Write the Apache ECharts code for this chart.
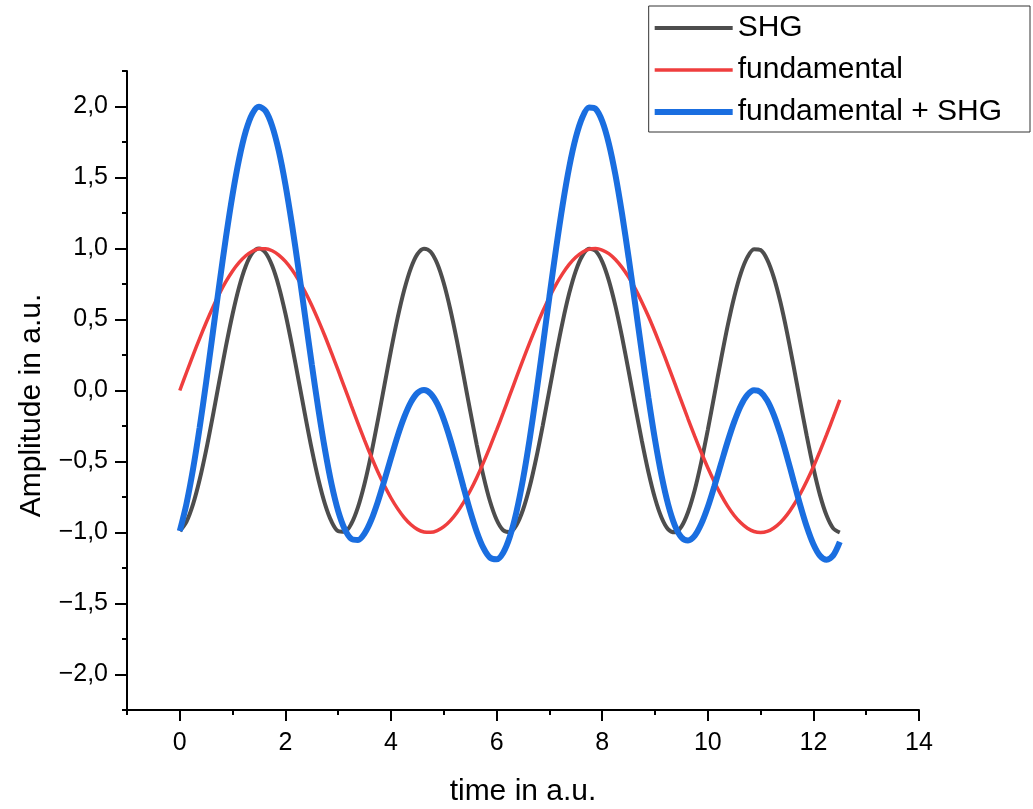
<!DOCTYPE html>
<html>
<head>
<meta charset="utf-8">
<title>SHG</title>
<script src="https://cdn.jsdelivr.net/npm/echarts@6/dist/echarts.min.js"></script>
<style>
	html, body { margin: 0; padding: 0; background: #fff; }
	#chart { width: 1033px; height: 809px; }
</style>
</head>
<body>
<div id="chart"></div>
<script>
// time values (a.u.)
var time = [0, 0.125, 0.25, 0.375, 0.5, 0.625, 0.75, 0.875, 1, 1.125,
	1.25, 1.375, 1.5, 1.625, 1.75, 1.875, 2, 2.125, 2.25, 2.375,
	2.5, 2.625, 2.75, 2.875, 3, 3.125, 3.25, 3.375, 3.5, 3.625,
	3.75, 3.875, 4, 4.125, 4.25, 4.375, 4.5, 4.625, 4.75, 4.875,
	5, 5.125, 5.25, 5.375, 5.5, 5.625, 5.75, 5.875, 6, 6.125,
	6.25, 6.375, 6.5, 6.625, 6.75, 6.875, 7, 7.125, 7.25, 7.375,
	7.5, 7.625, 7.75, 7.875, 8, 8.125, 8.25, 8.375, 8.5, 8.625,
	8.75, 8.875, 9, 9.125, 9.25, 9.375, 9.5, 9.625, 9.75, 9.875,
	10, 10.125, 10.25, 10.375, 10.5, 10.625, 10.75, 10.875, 11, 11.125,
	11.25, 11.375, 11.5, 11.625, 11.75, 11.875, 12, 12.125, 12.25, 12.375,
	12.5];

// SHG
var shg = [-0.990, -0.925, -0.802, -0.629, -0.418, -0.180, 0.069, 0.314, 0.539, 0.731,
	0.877, 0.969, 1.000, 0.969, 0.878, 0.733, 0.542, 0.317, 0.072, -0.177,
	-0.415, -0.627, -0.800, -0.924, -0.990, -0.994, -0.937, -0.821, -0.655, -0.448,
	-0.212, 0.036, 0.282, 0.511, 0.707, 0.860, 0.960, 0.999, 0.977, 0.894,
	0.755, 0.569, 0.348, 0.105, -0.144, -0.384, -0.601, -0.780, -0.910, -0.984,
	-0.997, -0.948, -0.840, -0.680, -0.477, -0.245, 0.003, 0.250, 0.482, 0.684,
	0.843, 0.950, 0.998, 0.983, 0.908, 0.776, 0.596, 0.379, 0.138, -0.111,
	-0.353, -0.574, -0.759, -0.896, -0.978, -0.999, -0.958, -0.857, -0.704, -0.506,
	-0.277, -0.030, 0.218, 0.453, 0.659, 0.825, 0.939, 0.995, 0.989, 0.922,
	0.797, 0.623, 0.410, 0.171, -0.078, -0.322, -0.546, -0.737, -0.881, -0.971,
	-1.000];

// fundamental
var fundamental = [0.000, 0.125, 0.247, 0.366, 0.479, 0.585, 0.682, 0.768, 0.842, 0.902,
	0.949, 0.981, 0.998, 0.999, 0.984, 0.954, 0.909, 0.850, 0.778, 0.694,
	0.599, 0.494, 0.382, 0.263, 0.141, 0.017, -0.108, -0.231, -0.351, -0.465,
	-0.572, -0.669, -0.757, -0.832, -0.895, -0.944, -0.978, -0.996, -0.999, -0.987,
	-0.959, -0.916, -0.859, -0.788, -0.706, -0.612, -0.508, -0.397, -0.279, -0.158,
	-0.033, 0.092, 0.215, 0.335, 0.450, 0.558, 0.657, 0.746, 0.823, 0.888,
	0.938, 0.974, 0.995, 1.000, 0.989, 0.964, 0.923, 0.867, 0.799, 0.717,
	0.624, 0.523, 0.412, 0.295, 0.174, 0.050, -0.075, -0.199, -0.320, -0.435,
	-0.544, -0.644, -0.735, -0.814, -0.880, -0.932, -0.970, -0.993, -1.000, -0.992,
	-0.968, -0.929, -0.876, -0.808, -0.729, -0.638, -0.537, -0.427, -0.311, -0.190,
	-0.066];

// fundamental + SHG
var sum = [-0.990, -0.800, -0.555, -0.263, 0.061, 0.405, 0.751, 1.082, 1.381, 1.633,
	1.826, 1.950, 1.998, 1.968, 1.862, 1.687, 1.451, 1.167, 0.850, 0.517,
	0.184, -0.133, -0.418, -0.661, -0.849, -0.977, -1.045, -1.052, -1.006, -0.913,
	-0.784, -0.633, -0.475, -0.321, -0.188, -0.084, -0.018, 0.003, -0.022, -0.093,
	-0.204, -0.347, -0.511, -0.683, -0.850, -0.996, -1.109, -1.177, -1.189, -1.142,
	-1.030, -0.856, -0.625, -0.345, -0.027, 0.313, 0.660, 0.996, 1.305, 1.572,
	1.781, 1.924, 1.993, 1.983, 1.897, 1.740, 1.519, 1.246, 0.937, 0.606,
	0.271, -0.051, -0.347, -0.601, -0.804, -0.949, -1.033, -1.056, -1.024, -0.941,
	-0.821, -0.674, -0.517, -0.361, -0.221, -0.107, -0.031, 0.002, -0.011, -0.070,
	-0.171, -0.306, -0.466, -0.637, -0.807, -0.960, -1.083, -1.164, -1.192, -1.161,
	-1.066];

function pairs(ys) {
	var out = [];
	for (var i = 0; i < time.length; i++) {
		out.push([time[i], ys[i]]);
	}
	return out;
}

var font = 'Liberation Sans, Arial, sans-serif';
var axisColor = '#000';
var colors = ['#4d4d4d', '#ef3e3e', '#1a6ee0'];
var widths = [4, 3.5, 6];

// plot area: x -1..14, y -2.25..2.25
var L = 127, R = 114, T = 71, B = 99;
var pxX = (1033 - L - R) / 15;
var pxY = (809 - T - B) / 4.5;

var chart = echarts.init(document.getElementById('chart'));

chart.setOption({
	animation: false,
	backgroundColor: '#fff',
	textStyle: { fontFamily: font },
	grid: [
		// main
		{ left: L, right: R, top: T, bottom: B, containLabel: false, outerBoundsMode: 'none' },
		// major x ticks, 0..14
		{ left: L + pxX, right: R, top: T, bottom: B, containLabel: false, outerBoundsMode: 'none' },
		// major y ticks, -2..2
		{ left: L, right: R, top: T + pxY * 0.25, bottom: B + pxY * 0.25, containLabel: false, outerBoundsMode: 'none' }
	],
	legend: {
		orient: 'vertical',
		right: 3,
		top: 6,
		padding: [4, 28, 2, 3],
		itemGap: 6,
		itemWidth: 78,
		itemHeight: 30,
		borderColor: '#333',
		borderWidth: 1,
		backgroundColor: '#fff',
		itemStyle: { opacity: 0 },
		textStyle: {
			fontFamily: font,
			fontSize: 30,
			lineHeight: 36,
			color: '#000'
		},
		data: [
			{ name: 'SHG', lineStyle: { color: colors[0], width: widths[0] } },
			{ name: 'fundamental', lineStyle: { color: colors[1], width: widths[1] } },
			{ name: 'fundamental + SHG', lineStyle: { color: colors[2], width: widths[2] } }
		]
	},
	xAxis: [{
		gridIndex: 0,
		type: 'value',
		min: -1,
		max: 14,
		interval: 1,
		name: 'time in a.u.',
		nameLocation: 'middle',
		nameGap: 67,
		nameTextStyle: { fontFamily: font, fontSize: 30, color: '#000' },
		splitLine: { show: false },
		axisLine: { show: true, onZero: false, lineStyle: { color: axisColor, width: 2 } },
		axisTick: { show: true, length: 5, lineStyle: { color: axisColor, width: 2 } },
		axisLabel: { show: false }
	}, {
		gridIndex: 1,
		type: 'value',
		min: 0,
		max: 14,
		interval: 2,
		position: 'bottom',
		splitLine: { show: false },
		axisLine: { show: false, onZero: false },
		axisTick: { show: true, length: 11, lineStyle: { color: axisColor, width: 2 } },
		axisLabel: {
			margin: 21,
			fontFamily: font,
			fontSize: 25,
			color: '#000'
		}
	}, {
		gridIndex: 2,
		type: 'value',
		show: false,
		min: 0,
		max: 1
	}],
	yAxis: [{
		gridIndex: 0,
		type: 'value',
		min: -2.25,
		max: 2.25,
		interval: 0.25,
		name: 'Amplitude in a.u.',
		nameLocation: 'middle',
		nameGap: 80,
		nameTextStyle: { fontFamily: font, fontSize: 30, color: '#000', padding: [0, 30, 0, 0] },
		splitLine: { show: false },
		axisLine: { show: true, onZero: false, lineStyle: { color: axisColor, width: 2 } },
		axisTick: { show: true, length: 5, lineStyle: { color: axisColor, width: 2 } },
		axisLabel: { show: false }
	}, {
		gridIndex: 1,
		type: 'value',
		show: false,
		min: 0,
		max: 1
	}, {
		gridIndex: 2,
		type: 'value',
		min: -2,
		max: 2,
		interval: 0.5,
		position: 'left',
		splitLine: { show: false },
		axisLine: { show: false, onZero: false },
		axisTick: { show: true, length: 12, lineStyle: { color: axisColor, width: 2 } },
		axisLabel: {
			margin: 19,
			fontFamily: font,
			fontSize: 25,
			color: '#000',
			formatter: function(v) {
				return v.toFixed(1).replace('.', ',').replace('-', '\u2212');
			}
		}
	}],
	series: [{
		name: 'SHG',
		type: 'line',
		xAxisIndex: 0,
		yAxisIndex: 0,
		showSymbol: false,
		symbol: 'none',
		smooth: 0.3,
		color: colors[0],
		lineStyle: { color: colors[0], width: widths[0] },
		data: pairs(shg)
	}, {
		name: 'fundamental',
		type: 'line',
		xAxisIndex: 0,
		yAxisIndex: 0,
		showSymbol: false,
		symbol: 'none',
		smooth: 0.3,
		color: colors[1],
		lineStyle: { color: colors[1], width: widths[1] },
		data: pairs(fundamental)
	}, {
		name: 'fundamental + SHG',
		type: 'line',
		xAxisIndex: 0,
		yAxisIndex: 0,
		showSymbol: false,
		symbol: 'none',
		smooth: 0.3,
		color: colors[2],
		lineStyle: { color: colors[2], width: widths[2] },
		data: pairs(sum)
	}]
});
</script>
</body>
</html>
